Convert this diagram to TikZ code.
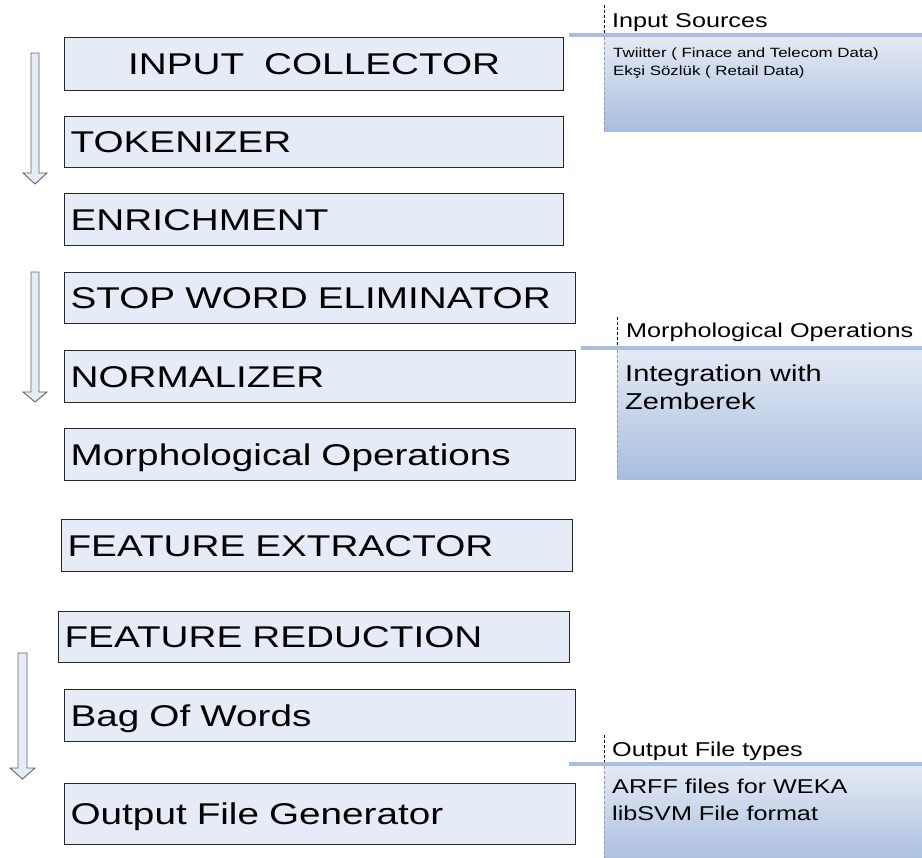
\documentclass[tikz,border=0pt]{standalone}
\usepackage{fontspec}
\setmainfont[FakeStretch=1.26]{Liberation Sans}
\definecolor{boxfill}{HTML}{E6ECF7}
\definecolor{boxline}{HTML}{262626}
\definecolor{arrline}{HTML}{666666}
\definecolor{barblue}{HTML}{A9BEE0}
\definecolor{panetop}{HTML}{E4EAF4}
\definecolor{panebot}{HTML}{A8BDDF}
\tikzset{
  stage/.style={draw=boxline, fill=boxfill, line width=1.2pt, anchor=north west,
    inner xsep=6pt, inner ysep=0pt, align=left,
    font=\fontsize{30}{36}\selectfont\addfontfeature{FakeStretch=1.29},
    text height=21.5pt, text depth=0pt},
  flowarrow/.style={draw=arrline, fill=boxfill, line width=0.9pt, line join=miter},
  bar/.style={draw=barblue, line width=4pt},
  edgetop/.style={draw=black, line width=0.8pt, dash pattern=on 3pt off 2pt},
  edgelow/.style={draw=gray!80, line width=0.7pt, dash pattern=on 3pt off 2pt},
  head/.style={anchor=base west, inner sep=0pt, font=\fontsize{20}{24}\selectfont},
  note/.style={anchor=base west, inner sep=0pt},
}
\begin{document}
\begin{tikzpicture}[x=1pt, y=-1pt]
\useasboundingbox (0,0) rectangle (922,858);

% processing stages
\node[stage, minimum width=499pt, minimum height=53pt, text width=487pt, align=center] (collector) at (64,37) {INPUT\ \ COLLECTOR};
\node[stage, minimum width=499pt, minimum height=51pt, text width=487pt] (tokenizer) at (64,116) {TOKENIZER};
\node[stage, minimum width=499pt, minimum height=52pt, text width=487pt] (enrich) at (64,193) {ENRICHMENT};
\node[stage, minimum width=511pt, minimum height=51pt, text width=499pt] (stopword) at (64,272) {STOP WORD ELIMINATOR};
\node[stage, minimum width=511pt, minimum height=52pt, text width=499pt] (normal) at (64,350) {NORMALIZER};
\node[stage, minimum width=511pt, minimum height=52pt, text width=499pt] (morph) at (64,428) {Morphological Operations};
\node[stage, minimum width=511pt, minimum height=52pt, text width=499pt] (extract) at (61,519) {FEATURE EXTRACTOR};
\node[stage, minimum width=511pt, minimum height=51pt, text width=499pt] (reduce) at (58,611) {FEATURE REDUCTION};
\node[stage, minimum width=511pt, minimum height=52pt, text width=499pt] (bow) at (64,689) {Bag Of Words};
\node[stage, minimum width=511pt, minimum height=61pt, text width=499pt] (outgen) at (64,783) {Output File Generator};

% hollow down arrows on the left
\path[flowarrow] (31,53) -- (39,53) -- (39,173) -- (47,173) -- (35,184) -- (23,173) -- (31,173) -- cycle;
\path[flowarrow] (31,272) -- (39,272) -- (39,392) -- (47,392) -- (35,402) -- (23,392) -- (31,392) -- cycle;
\path[flowarrow] (18,653) -- (27,653) -- (27,768) -- (35,768) -- (22.5,779) -- (10,768) -- (18,768) -- cycle;

% side panel: input sources
\shade[top color=panetop, bottom color=panebot] (604,37) rectangle (922,132);
\path[bar] (569,35) -- (922,35);
\path[edgetop] (604,5) -- (604,33);
\path[edgelow] (604,37) -- (604,132);
\node[head] (srchead) at (612,28) {Input Sources};
\node[note, font=\fontsize{13.4}{16}\selectfont] (src1) at (613,58) {Twiitter ( Finace and Telecom Data)};
\node[note, font=\fontsize{13.4}{16}\selectfont] (src2) at (613,76) {Ekşi Sözlük ( Retail Data)};

% side panel: morphology
\shade[top color=panetop, bottom color=panebot] (617,350) rectangle (922,480);
\path[bar] (581,348) -- (922,348);
\path[edgetop] (617,317) -- (617,346);
\path[edgelow] (617,350) -- (617,480);
\node[head] (morphhead) at (626,338) {Morphological Operations};
\node[note, font=\fontsize{23}{28}\selectfont] (zem1) at (625,382) {Integration with};
\node[note, font=\fontsize{23}{28}\selectfont] (zem2) at (625,410) {Zemberek};

% side panel: output formats
\shade[top color=panetop, bottom color=panebot!95!white] (604,766) rectangle (922,858);
\path[bar] (569,764) -- (922,764);
\path[edgetop] (604,735) -- (604,762);
\path[edgelow] (604,766) -- (604,858);
\node[head] (outhead) at (612,756) {Output File types};
\node[note, font=\fontsize{20}{24}\selectfont] (fmt1) at (612,793) {ARFF files for WEKA};
\node[note, font=\fontsize{20}{24}\selectfont] (fmt2) at (612,820) {libSVM File format};
\end{tikzpicture}
\end{document}
